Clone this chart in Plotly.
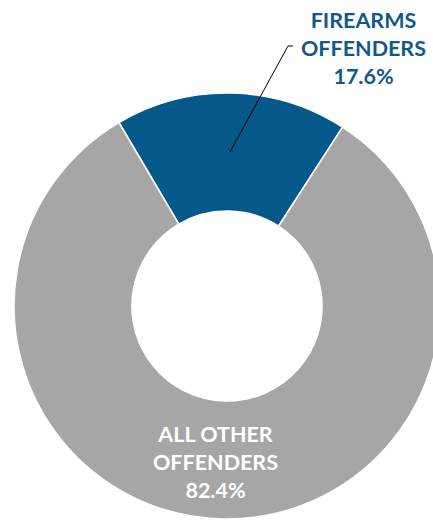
import plotly.graph_objects as go

# Share of offenders by offense type
categories = ["FIREARMS OFFENDERS", "ALL OTHER OFFENDERS"]
shares = [17.6, 82.4]
colors = ["#05588a", "#a6a6a6"]

W, H = 454, 520


def px(x, y):
    """Convert pixel position (from top-left) to paper coordinates."""
    return x / W, 1 - y / H


def label_text(name, value):
    first, second = name.split(" ", 1) if name.startswith("FIREARMS") else name.rsplit(" ", 1)
    return f"<b>{first}<br>{second}<br>{value:.1f}%</b>"


fig = go.Figure(
    go.Pie(
        labels=categories,
        values=shares,
        hole=0.446,
        sort=False,
        direction="clockwise",
        rotation=-30.5,
        marker=dict(colors=colors, line=dict(color="white", width=1.6)),
        textinfo="none",
        hoverinfo="label+percent",
        showlegend=False,
        domain=dict(x=[0, 1], y=[1 / H, 1 - 93 / H]),
    )
)

font_family = "Lato, 'Open Sans', sans-serif"

# Firearms label with leader line
fx, fy = px(363, 48)
fig.add_annotation(
    x=fx, y=fy, xref="paper", yref="paper", showarrow=False,
    text=label_text(categories[0], shares[0]),
    font=dict(family=font_family, size=21.5, color="#11598a"),
    align="center", xanchor="center", yanchor="middle",
)
x0, y0 = px(230, 152)
x1, y1 = px(288, 46)
x2, y2 = px(293, 46)
fig.add_shape(type="line", xref="paper", yref="paper", x0=x0, y0=y0, x1=x1, y1=y1,
              line=dict(color="black", width=1))
fig.add_shape(type="line", xref="paper", yref="paper", x0=x1, y0=y1, x1=x2, y1=y2,
              line=dict(color="black", width=1))

# Label inside the larger slice
ox, oy = px(215, 462)
fig.add_annotation(
    x=ox, y=oy, xref="paper", yref="paper", showarrow=False,
    text=label_text(categories[1], shares[1]),
    font=dict(family=font_family, size=21.5, color="white"),
    align="center", xanchor="center", yanchor="middle",
)

fig.update_layout(
    width=W, height=H,
    margin=dict(l=0, r=0, t=0, b=0),
    paper_bgcolor="white",
    plot_bgcolor="white",
)

fig.write_html("out.html")
